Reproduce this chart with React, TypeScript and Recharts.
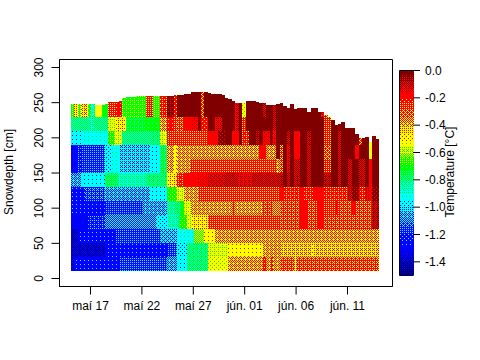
import { BarChart, Bar, Cell, XAxis, YAxis, ReferenceArea, Label } from "recharts";

const FONT = "'Liberation Sans', Arial, sans-serif";

// Temperature [°C] per snow layer, three readings a day from mid May to mid June
const depth10 = [
  -1.42, -1.3, -1.3, -1.3, -1.3, -1.3, -1.3, -1.3, -1.3, -1.3, -1.3, -1.3, -1.28, -1.28, -1.2,
  -1.2, -1.2, -1.2, -1.2, -1.2, -1.2, -1.2, -1.2, -1.2, -1.2, -1.2, -1.2, -1.2, -1.1, -1.1,
  -1.1, -0.97, -0.97, -0.97, -0.85, -0.85, -0.85, -0.85, -0.85, -0.85, -0.6, -0.6, -0.6, -0.6, -0.6,
  -0.6, -0.42, -0.42, -0.42, -0.42, -0.42, -0.42, -0.42, -0.42, -0.42, -0.42, -0.28, -0.42, -0.28, -0.42,
  -0.42, -0.32, -0.32, -0.32, -0.32, -0.45, -0.32, -0.32, -0.32, -0.32, -0.32, -0.32, -0.32, -0.32, -0.32,
  -0.32, -0.32, -0.32, -0.32, -0.32, -0.32, -0.32, -0.32, -0.32, -0.32, -0.32, -0.32, -0.32, -0.32, -0.32,
];
const depth30 = [
  -1.4, -1.4, -1.4, -1.4, -1.4, -1.4, -1.4, -1.4, -1.4, -1.4, -1.3, -1.3, -1.3, -1.3, -1.3,
  -1.3, -1.3, -1.3, -1.3, -1.3, -1.3, -1.3, -1.3, -1.3, -1.3, -1.3, -1.3, -1.3, -1.2, -1.2,
  -1.2, -1, -1, -1, -0.85, -0.85, -0.85, -0.85, -0.85, -0.85, -0.62, -0.62, -0.62, -0.62, -0.62,
  -0.62, -0.55, -0.55, -0.55, -0.55, -0.55, -0.55, -0.55, -0.55, -0.55, -0.55, -0.42, -0.42, -0.42, -0.42,
  -0.42, -0.45, -0.45, -0.45, -0.45, -0.45, -0.45, -0.45, -0.45, -0.45, -0.55, -0.45, -0.45, -0.45, -0.45,
  -0.45, -0.45, -0.45, -0.45, -0.45, -0.45, -0.45, -0.45, -0.45, -0.45, -0.45, -0.45, -0.45, -0.45, -0.45,
];
const depth50 = [
  -1.42, -1.42, -1.3, -1.3, -1.3, -1.3, -1.3, -1.3, -1.3, -1.3, -1.3, -1.3, -1.3, -1.2, -1.2,
  -1.2, -1.2, -1.2, -1.2, -1.2, -1.2, -1.2, -1.2, -1.2, -1.2, -1.2, -1.08, -1.08, -1.08, -1.08,
  -1.08, -0.95, -0.95, -0.95, -0.95, -0.95, -0.68, -0.68, -0.68, -0.56, -0.56, -0.56, -0.42, -0.42, -0.42,
  -0.42, -0.42, -0.42, -0.42, -0.42, -0.42, -0.42, -0.42, -0.42, -0.42, -0.42, -0.42, -0.42, -0.42, -0.42,
  -0.42, -0.42, -0.42, -0.42, -0.42, -0.42, -0.42, -0.42, -0.42, -0.42, -0.42, -0.42, -0.42, -0.42, -0.42,
  -0.42, -0.42, -0.42, -0.42, -0.42, -0.42, -0.42, -0.42, -0.42, -0.42, -0.42, -0.42, -0.42, -0.42, -0.42,
];
const depth70 = [
  -1.31, -1.31, -1.31, -1.31, -1.31, -1.22, -1.22, -1.22, -1.22, -1.22, -1.12, -1.12, -1.12, -1.12, -1.12,
  -1.12, -1.12, -1.12, -1.12, -1.12, -1.12, -1.12, -1.12, -1.12, -1.12, -1, -1, -1, -0.9, -0.9,
  -0.9, -0.88, -0.75, -0.75, -0.62, -0.5, -0.5, -0.5, -0.5, -0.5, -0.3, -0.3, -0.3, -0.3, -0.3,
  -0.3, -0.3, -0.3, -0.3, -0.3, -0.3, -0.3, -0.3, -0.3, -0.3, -0.3, -0.3, -0.3, -0.3, -0.3,
  -0.3, -0.33, -0.33, -0.33, -0.33, -0.33, -0.33, -0.2, -0.2, -0.33, -0.33, -0.33, -0.2, -0.2, -0.33,
  -0.33, -0.33, -0.33, -0.33, -0.33, -0.33, -0.33, -0.33, -0.33, -0.33, -0.33, -0.33, -0.33, -0.1, -0.1,
];
const depth90 = [
  -1.3, -1.3, -1.3, -1.3, -1.3, -1.3, -1.3, -1.3, -1.3, -1.3, -1.2, -1.2, -1.2, -1.2, -1.2,
  -1.2, -1.2, -1.2, -1.2, -1.2, -1.2, -1.1, -1.1, -1.1, -1.1, -1.1, -1.1, -1.1, -0.88, -0.88,
  -0.88, -0.85, -0.78, -0.62, -0.62, -0.42, -0.42, -0.42, -0.42, -0.42, -0.42, -0.42, -0.42, -0.42, -0.42,
  -0.42, -0.42, -0.3, -0.42, -0.42, -0.42, -0.42, -0.42, -0.42, -0.42, -0.42, -0.32, -0.32, -0.32, -0.38,
  -0.38, -0.33, -0.33, -0.33, -0.33, -0.33, -0.33, -0.2, -0.2, -0.33, -0.33, -0.33, -0.2, -0.2, -0.3,
  -0.3, -0.3, -0.2, -0.33, -0.33, -0.33, -0.33, -0.2, -0.33, -0.33, -0.33, -0.33, -0.33, -0.1, -0.1,
];
const depth110 = [
  -1.3, -1.3, -1.3, -1.3, -1.18, -1.18, -1.18, -1.18, -1.18, -1.18, -1.1, -1.1, -1.1, -1.1, -1.1,
  -1.1, -1.1, -1.1, -1.1, -1.1, -1.1, -1.1, -1.1, -0.97, -0.97, -0.97, -0.97, -0.97, -0.75, -0.75,
  -0.75, -0.62, -0.62, -0.42, -0.42, -0.42, -0.42, -0.3, -0.3, -0.3, -0.3, -0.3, -0.3, -0.3, -0.3,
  -0.3, -0.3, -0.3, -0.3, -0.3, -0.3, -0.3, -0.3, -0.3, -0.3, -0.3, -0.3, -0.3, -0.3, -0.3,
  -0.3, -0.2, -0.28, -0.28, -0.28, -0.28, -0.28, -0.2, -0.28, -0.28, -0.28, -0.2, -0.2, -0.2, -0.28,
  -0.28, -0.28, -0.28, -0.28, -0.28, -0.28, -0.12, -0.05, -0.05, -0.28, -0.28, -0.15, -0.2, -0.05, -0.05,
];
const depth130 = [
  -1.1, -1.1, -1.1, -0.98, -0.98, -0.98, -0.98, -0.98, -0.98, -0.98, -0.83, -0.83, -0.83, -0.83, -0.9,
  -0.9, -0.9, -0.9, -0.9, -0.9, -0.9, -0.9, -0.85, -0.85, -0.85, -0.85, -0.85, -0.85, -0.5, -0.5,
  -0.5, -0.28, -0.28, -0.2, -0.2, -0.2, -0.2, -0.18, -0.18, -0.18, -0.14, -0.14, -0.14, -0.14, -0.14,
  -0.12, -0.12, -0.12, -0.12, -0.15, -0.15, -0.15, -0.15, -0.12, -0.12, -0.12, -0.12, -0.12, -0.12, -0.12,
  -0.12, -0.1, -0.03, -0.12, -0.03, -0.1, -0.1, -0.03, -0.03, -0.12, -0.03, -0.03, -0.03, -0.03, -0.1,
  -0.1, -0.03, -0.03, -0.12, -0.03, -0.03, -0.12, -0.03, -0.03, -0.1, -0.1, -0.03, -0.2, -0.03, -0.03,
];
const depth150 = [
  -1.32, -1.32, -1.22, -1.2, -1.2, -1.2, -1.2, -1.2, -1.2, -1.2, -1, -1, -0.95, -0.95, -1.05,
  -1.05, -1.05, -1.05, -1.05, -1.05, -1.05, -1.05, -1.05, -0.97, -0.97, -0.97, -0.83, -0.83, -0.42, -0.42,
  -0.55, -0.42, -0.42, -0.42, -0.42, -0.3, -0.3, -0.3, -0.3, -0.3, -0.3, -0.3, -0.3, -0.3, -0.3,
  -0.3, -0.3, -0.3, -0.3, -0.3, -0.3, -0.3, -0.3, -0.3, -0.3, -0.3, -0.3, -0.3, -0.3, -0.3,
  -0.42, -0.35, -0.03, -0.15, -0.03, -0.12, -0.12, -0.03, -0.03, -0.12, -0.03, -0.03, -0.03, -0.03, -0.3,
  -0.3, -0.03, -0.03, -0.12, -0.03, -0.03, -0.12, -0.03, -0.03, -0.12, -0.12, -0.03, -0.2, -0.03, -0.03,
];
const depth170 = [
  -1.32, -1.32, -1.22, -1.2, -1.2, -1.2, -1.2, -1.2, -1.2, -1.2, -1, -1, -0.95, -0.95, -1.05,
  -1.05, -1.05, -1.05, -1.05, -1.05, -1.05, -1.05, -1.05, -0.97, -0.97, -0.97, -0.83, -0.83, -0.42, -0.42,
  -0.55, -0.42, -0.42, -0.42, -0.42, -0.42, -0.42, -0.42, -0.42, -0.42, -0.42, -0.42, -0.42, -0.42, -0.42,
  -0.42, -0.42, -0.42, -0.42, -0.42, -0.42, -0.42, -0.42, -0.42, -0.42, -0.2, -0.2, -0.42, -0.42, -0.42,
  -0.04, -0.35, -0.03, -0.15, -0.03, -0.2, -0.2, -0.03, -0.03, -0.12, -0.03, -0.03, -0.03, -0.03, -0.35,
  -0.35, -0.03, -0.03, -0.12, -0.03, -0.03, -0.03, -0.03, -0.2, -0.03, -0.03, -0.03, -0.55, -0.03, -0.03,
];
const depth190 = [
  -0.98, -0.98, -0.98, -0.95, -0.95, -0.95, -0.95, -0.95, -0.95, -0.95, -0.95, -0.73, -0.73, -0.62, -0.62,
  -0.86, -0.86, -0.86, -0.86, -0.86, -0.86, -0.86, -0.86, -0.85, -0.85, -0.85, -0.62, -0.62, -0.3, -0.3,
  -0.3, -0.3, -0.3, -0.3, -0.3, -0.3, -0.3, -0.3, -0.3, -0.3, -0.2, -0.2, -0.2, -0.05, -0.05,
  -0.03, -0.03, -0.2, -0.2, -0.03, -0.26, -0.26, -0.03, -0.03, -0.1, -0.03, -0.18, -0.18, -0.04, -0.18,
  -0.03, -0.03, -0.03, -0.12, -0.03, -0.2, -0.2, -0.03, -0.03, -0.1, -0.03, -0.03, -0.03, -0.03, -0.3,
  -0.3, -0.03, -0.03, -0.12, -0.03, -0.03, -0.03, -0.03, -0.03, -0.35, -0.03, -0.03, -0.6, -0.03, -0.03,
];
const depth210 = [
  -0.86, -0.86, -0.86, -0.86, -0.86, -0.86, -0.9, -0.86, -0.86, -0.86, -0.86, -0.62, -0.62, -0.5, -0.5,
  -0.5, -0.8, -0.8, -0.8, -0.8, -0.8, -0.8, -0.78, -0.78, -0.78, -0.78, -0.42, -0.42, -0.22, -0.22,
  -0.32, -0.32, -0.32, -0.2, -0.2, -0.18, -0.18, -0.03, -0.25, -0.25, -0.03, -0.03, -0.15, -0.15, -0.03,
  -0.03, -0.03, -0.03, -0.15, -0.03, -0.3, -0.03, -0.03, -0.03, -0.03, -0.03, -0.03, -0.03, -0.03, -0.12,
  -0.03, -0.03, -0.03, -0.03, -0.03, -0.03, -0.03, -0.03, -0.03, -0.03, -0.03, -0.03, -0.03, -0.03, -0.3,
  -0.3, -0.03, -0.03, -0.03, -0.03, -0.03, -0.03, -0.03, -0.03, -0.03, -0.03, -0.03, -0.5, -0.03, -0.03,
];
const depth230 = [
  -0.72, -0.48, -0.72, -0.45, -0.45, -0.75, -0.92, -0.58, -0.58, -0.77, -0.77, -0.3, -0.3, -0.22, -0.22,
  -0.74, -0.74, -0.74, -0.74, -0.74, -0.74, -0.74, -0.3, -0.3, -0.72, -0.72, -0.28, -0.28, -0.06, -0.06,
  -0.25, -0.03, -0.03, -0.03, -0.03, -0.03, -0.03, -0.03, -0.35, -0.03, -0.03, -0.03, -0.03, -0.03, -0.03,
  -0.03, -0.03, -0.03, -0.15, -0.03, -0.6, -0.03, -0.03, -0.03, -0.03, -0.03, -0.12, -0.03, -0.03, -0.12,
  -0.03, -0.03, -0.03, -0.03, -0.03, -0.03, -0.03, -0.03, -0.03, -0.03, -0.03, -0.03, -0.03, -0.15, -0.35,
  -0.03, -0.03, -0.03, -0.03, -0.03, -0.03, -0.03, -0.03, -0.03, -0.03, -0.03, -0.03, -0.65, -0.03, -0.03,
];

// Snow surface [cm] at the same readings
const surface = [
  248, 248, 248, 248, 248, 248, 248, 246, 246, 246, 248, 251, 251, 251, 252,
  256, 258, 258, 258, 259, 259, 259, 259, 259, 259, 259, 259, 259, 259, 260,
  261, 261, 261, 262, 263, 265, 265, 265, 265, 265, 264, 263, 262, 262, 261,
  257, 255, 252, 250, 249, 249, 252, 252, 252, 251, 249, 249, 247, 247, 247,
  248, 249, 245, 243, 248, 241, 243, 243, 242, 237, 243, 243, 237, 237, 233,
  230, 226, 218, 220, 222, 214, 214, 214, 205, 200, 200, 201, 194, 202, 199,
];

const layerBottoms = [10, 30, 50, 70, 90, 110, 130, 150, 170, 190, 210, 230];
const layerTemps = [depth10, depth30, depth50, depth70, depth90, depth110, depth130, depth150, depth170, depth190, depth210, depth230];

const dayTicks = [2, 7, 12, 17, 22, 27]; // days after May 15
const dayLabels = ["maí 17", "maí 22", "maí 27", "jún. 01", "jún. 06", "jún. 11"];
const depthTicks = [0, 50, 100, 150, 200, 250, 300];
const tempTicks = [0, -0.2, -0.4, -0.6, -0.8, -1, -1.2, -1.4];

// Colour scale anchors, mixed by ordered dithering as in the 256 colour original
const scaleTemps = [-1.5, -1.33, -0.96, -0.77, -0.58, -0.2, -0.03];
const barScaleTemps = [-1.5, -1.3, -0.93, -0.7, -0.53, -0.18, -0.02];
const scaleColors = ["#000080", "#0000ff", "#00ffff", "#00ff00", "#ffff00", "#ff0000", "#800000"];
const scaleGamma = [1, 1.3, 1, 1, 1, 1];
const MIX_LEVELS = 16;

// One entry per small step of the colour bar
const barSteps = Array.from({ length: 60 }, (_, i) => -0.0125 - i * 0.025);

const bayer = (size: number): number[][] => {
  if (size === 1) return [[0]];
  const half = bayer(size / 2);
  const out: number[][] = [];
  for (let y = 0; y < size; y++) {
    out.push([]);
    for (let x = 0; x < size; x++) {
      const base = half[y % (size / 2)][x % (size / 2)] * 4;
      const quad = y < size / 2 ? (x < size / 2 ? 0 : 2) : x < size / 2 ? 3 : 1;
      out[y].push(base + quad);
    }
  }
  return out;
};
const BAYER8 = bayer(8);

const fillOf = (temp: number, anchors = scaleTemps) => {
  let seg = 0;
  while (seg < anchors.length - 2 && temp > anchors[seg + 1]) seg++;
  const raw = (temp - anchors[seg]) / (anchors[seg + 1] - anchors[seg]);
  const frac = Math.pow(Math.max(0, Math.min(1, raw)), scaleGamma[seg]);
  const level = Math.round(frac * MIX_LEVELS);
  if (level === 0) return scaleColors[seg];
  if (level === MIX_LEVELS) return scaleColors[seg + 1];
  return `url(#mix-${seg}-${level})`;
};

function MixPatterns() {
  const patterns = [];
  for (let seg = 0; seg < scaleColors.length - 1; seg++) {
    for (let level = 1; level < MIX_LEVELS; level++) {
      const dots = [];
      for (let y = 0; y < 8; y++) {
        for (let x = 0; x < 8; x++) {
          if (BAYER8[y][x] < (level * 64) / MIX_LEVELS) {
            dots.push(<rect key={`${x}-${y}`} x={x} y={y} width={1} height={1} fill={scaleColors[seg + 1]} />);
          }
        }
      }
      patterns.push(
        <pattern key={`${seg}-${level}`} id={`mix-${seg}-${level}`} patternUnits="userSpaceOnUse" width={8} height={8}>
          <rect width={8} height={8} fill={scaleColors[seg]} />
          {dots}
        </pattern>
      );
    }
  }
  return <defs>{patterns}</defs>;
}

const thickness = (bottom: number, top: number, k: number) => {
  const end = bottom === 230 ? surface[k] : Math.min(top, surface[k]);
  return Math.max(0, end - bottom);
};

const snowData = surface.map((_, k) => {
  const row: Record<string, number> = { day: 0.27 + k / 3, gap: 10 };
  layerBottoms.forEach((bottom) => {
    row[`d${bottom}`] = thickness(bottom, bottom + 20, k);
  });
  return row;
});

const barData = [
  barSteps.reduce<Record<string, number | string>>((row, t, i) => {
    row[`s${i}`] = -0.025;
    return row;
  }, { name: "scale" }),
];

const tickStyle = { fontSize: 12, fontFamily: FONT, fill: "#000" };
const lineStyle = { stroke: "#000", strokeWidth: 1 };

// Every cell spans one reading, so neighbouring columns close up
const COLUMN_WIDTH = 3.5;
function SnowCell(props: any) {
  const { x, y, width, height, fill } = props;
  if (!height) return null;
  return (
    <rect
      x={x + width / 2 - COLUMN_WIDTH / 2}
      y={y}
      width={COLUMN_WIDTH}
      height={height}
      fill={fill}
      shapeRendering="crispEdges"
    />
  );
}

export default function App() {
  return (
    <div style={{ position: "absolute", left: 0, top: 0, width: 480, height: 360, background: "#fff", overflow: "hidden" }}>
      <div style={{ position: "absolute", left: 0, top: 0 }}>
        <BarChart
          width={480}
          height={360}
          data={snowData}
          stackOffset="none"
          barSize={4}
          margin={{ top: 59.5, right: 87.5, bottom: 0, left: 0 }}
        >
          <MixPatterns />
          <XAxis
            dataKey="day"
            type="number"
            domain={[-1.016, 31.38]}
            ticks={dayTicks}
            interval={0}
            allowDataOverflow
            height={73.5}
            tickSize={8}
            tickMargin={7}
            tick={tickStyle}
            axisLine={lineStyle}
            tickLine={lineStyle}
            tickFormatter={(d) => dayLabels[dayTicks.indexOf(d)]}
          />
          <YAxis
            type="number"
            domain={[-11.37, 311.37]}
            ticks={depthTicks}
            interval={0}
            allowDataOverflow
            width={59.5}
            tickSize={8}
            tickMargin={13}
            tick={{ ...tickStyle, angle: -90, textAnchor: "middle" }}
            axisLine={lineStyle}
            tickLine={lineStyle}
          >
            <Label value="Snowdepth [cm]" angle={-90} position="center" dx={-21} dy={-1} style={tickStyle} />
          </YAxis>
          <Bar dataKey="gap" stackId="snow" fill="none" isAnimationActive={false} />
          {layerBottoms.map((bottom, r) => (
            <Bar key={bottom} dataKey={`d${bottom}`} stackId="snow" isAnimationActive={false} shape={SnowCell}>
              {snowData.map((_, k) => (
                <Cell key={k} fill={fillOf(layerTemps[r][k])} />
              ))}
            </Bar>
          ))}
          <ReferenceArea x1={-1.016} x2={31.38} y1={-11.37} y2={311.37} fill="none" stroke="#000" strokeWidth={1} />
        </BarChart>
      </div>
      <div style={{ position: "absolute", left: 390, top: 0 }}>
        <BarChart
          width={90}
          height={360}
          data={barData}
          stackOffset="sign"
          barCategoryGap={0}
          margin={{ top: 70.5, right: 0, bottom: 84.5, left: 9.5 }}
        >
          <MixPatterns />
          <XAxis dataKey="name" hide />
          <YAxis
            orientation="right"
            type="number"
            domain={[-1.5, 0]}
            ticks={tempTicks}
            interval={0}
            allowDataOverflow
            width={67}
            tickSize={7}
            tickMargin={5}
            tick={tickStyle}
            axisLine={false}
            tickLine={lineStyle}
            tickFormatter={(t) => Number(t).toFixed(1)}
          >
            <Label value="Temperature [°C]" angle={-90} position="center" dx={3} dy={-1} style={tickStyle} />
          </YAxis>
          {barSteps.map((t, i) => (
            <Bar key={i} dataKey={`s${i}`} stackId="scale" fill={fillOf(t, barScaleTemps)} isAnimationActive={false} shapeRendering="crispEdges" />
          ))}
          <ReferenceArea y1={-1.5} y2={0} fill="none" stroke="#000" strokeWidth={1} />
        </BarChart>
      </div>
    </div>
  );
}
